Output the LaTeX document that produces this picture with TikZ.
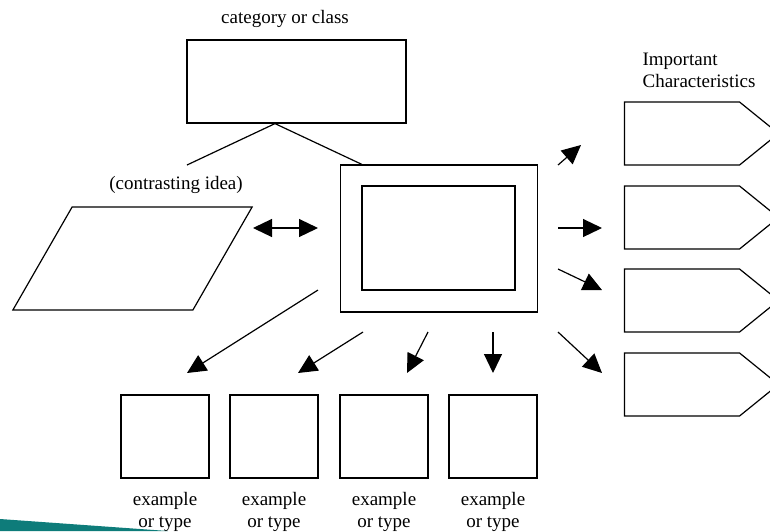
\documentclass[tikz,border=0pt]{standalone}
\usepackage{fontspec}
\setmainfont{Liberation Serif}
\usetikzlibrary{arrows.meta,shapes.symbols}
\definecolor{stripeteal}{RGB}{14,124,122}
\tikzset{
  box/.style={draw,rectangle,inner sep=0pt},
  arr/.style={-{Triangle[length=19pt,width=18pt]}},
  lbl/.style={align=center,inner sep=0pt},
}
\begin{document}
\begin{tikzpicture}[x=1pt,y=-1pt,line width=1.2pt,font=\fontsize{19}{22}\selectfont]
\useasboundingbox (0,0) rectangle (770,531);
\clip (0,0) rectangle (770,531);
% category box and its two legs
\node[box,minimum width=219pt,minimum height=83pt] (cat) at (296.5,81.5) {};
\node[lbl] (catlbl) at (285,19) {category or class};
\node[box,minimum width=197pt,minimum height=147pt] (main) at (439,238.5) {};
\node[box,minimum width=153pt,minimum height=104pt] (inner) at (438.5,238) {};
\coordinate (apex) at ([xshift=-21.5pt]cat.south);
\coordinate (legl) at (187,165);
\draw (legl) -- (apex) -- ([xshift=22pt]main.north west);
% contrasting idea
\node[box,xslant=0.575,minimum width=180pt,minimum height=103pt] (contrast) at (132.5,258.5) {};
\node[lbl] (conlbl) at (176,185) {(contrasting idea)};
\coordinate (dbla) at (253,228);\coordinate (dblb) at (318,228);
\draw[{Triangle[length=19pt,width=18pt]}-{Triangle[length=19pt,width=18pt]}] (dbla) -- (dblb);
% examples
\foreach \i/\x in {1/165,2/274,3/384,4/493}{
  \node[box,minimum width=88pt,minimum height=83pt] (ex\i) at (\x,436.5) {};
  \node[lbl,anchor=north] (exlbl\i) at ([yshift=-13pt]ex\i.south) {example\\or type};
}
\foreach \i/\sx/\sy/\tx in {1/318/290/187,2/363/332/298,3/428/332/407,4/493/332/493}{
  \coordinate (ds\i) at (\sx,\sy);\coordinate (dt\i) at (\tx,373);
  \draw[arr] (ds\i) -- (dt\i);
}
% characteristics
\node[lbl,align=left,anchor=north west] (chlbl) at (642,52) {Important\\Characteristics};
\foreach \i/\y in {1/133.5,2/217.5,3/300.5,4/384.5}{
  \node[draw,signal,signal to=east,signal pointer angle=78,minimum width=154pt,
    minimum height=63pt,inner sep=0pt] (ch\i) at (682,\y) {};
}
\foreach \i/\sy/\tx/\ty in {1/165/581/145,2/228/602/228,3/269/602/290,4/332/602/373}{
  \coordinate (rs\i) at (558,\sy);\coordinate (rt\i) at (\tx,\ty);
  \draw[arr] (rs\i) -- (rt\i);
}
% slide stripe
\fill[stripeteal] (0,519) -- (168,531) -- (0,531) -- cycle;
\end{tikzpicture}
\end{document}
